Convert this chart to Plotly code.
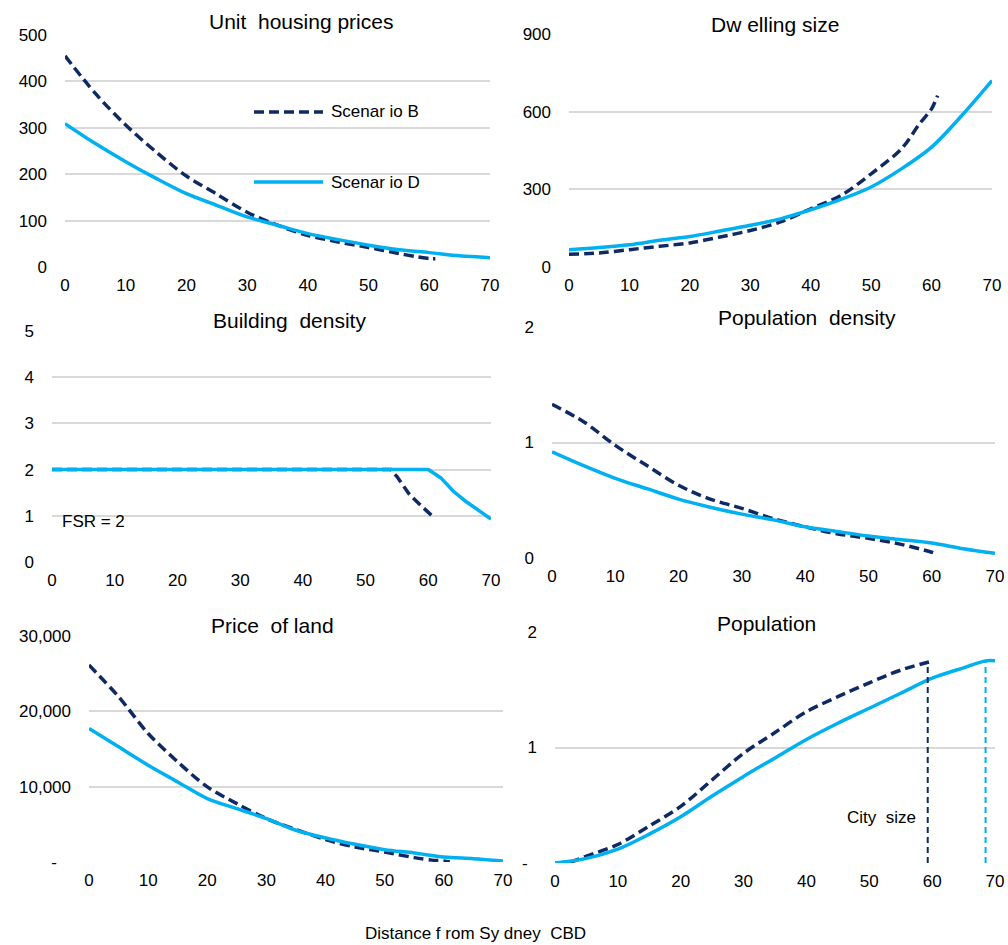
import plotly.graph_objects as go

# ---------------- data ----------------
# distance from Sydney CBD (km)
dist_B = [0, 5, 10, 15, 20, 25, 30, 35, 40, 45, 50, 55, 58, 60, 61]
dist_D = [0, 5, 10, 15, 20, 25, 30, 35, 40, 45, 50, 55, 60, 65, 70]

price_B = [455, 374, 306, 248, 196, 157, 118, 90, 68, 54, 42, 29, 22, 18, 18]
price_D = [309, 266, 227, 191, 158, 133, 108, 90, 72, 59, 47, 37, 31, 24, 20]

dwell_B = [49, 54, 67, 80, 93, 116, 141, 174, 225, 276, 360, 456, 553, 611, 662]
dwell_D = [67, 75, 86, 103, 118, 139, 161, 186, 221, 261, 309, 379, 463, 585, 720]

bd_x_B = [0, 54, 55, 57, 59, 61]
bd_B = [2, 2, 1.85, 1.46, 1.2, 0.95]
bd_x_D = [0, 60, 62, 64, 66, 68, 70]
bd_D = [2, 2, 1.82, 1.53, 1.31, 1.12, 0.93]

popd_B = [1.33, 1.18, 0.975, 0.80, 0.63, 0.51, 0.43, 0.34, 0.27, 0.21, 0.17, 0.12, 0.08, 0.05, 0.03]
popd_D = [0.92, 0.80, 0.69, 0.60, 0.51, 0.44, 0.38, 0.33, 0.27, 0.23, 0.19, 0.16, 0.13, 0.08, 0.04]

land_B = [26140, 21940, 17060, 13290, 9970, 7750, 5760, 4300, 2970, 1990, 1330, 580, 250, 130, 0]
land_D = [17720, 15290, 12850, 10630, 8420, 7090, 5760, 4210, 3190, 2350, 1640, 1200, 660, 440, 130]

pop_x_B = [0, 2.5, 5, 10, 15, 20, 25, 30, 35, 40, 45, 50, 55, 59.5]
pop_B = [0, 0.01, 0.06, 0.16, 0.32, 0.49, 0.72, 0.95, 1.13, 1.31, 1.44, 1.56, 1.67, 1.74]
pop_x_D = [0, 5, 10, 15, 20, 25, 30, 35, 40, 45, 50, 55, 60, 65, 68.5, 70]
pop_D = [0, 0.04, 0.12, 0.25, 0.40, 0.58, 0.75, 0.91, 1.07, 1.21, 1.34, 1.47, 1.60, 1.69, 1.75, 1.75]

city_size_B = 59.3
city_size_D = 68.5
city_pop_B = 1.74
city_pop_D = 1.75

titles = ["Unit  housing prices", "Dw elling size", "Building  density",
          "Population  density", "Price  of land", "Population"]
scen_names = ["Scenario B", "Scenario D"]

# ---------------- style ----------------
NAVY = "#0F2A63"
BLUE = "#00B0F0"
GRID = "#D9D9D9"
FONT = "Liberation Sans, Arial, sans-serif"
OFF = 0                      # page body margin removed via post_script
W, H = 1008, 945
NB = "\u00a0"


def px_x(p):
    return (p - OFF) / W


def px_y(p):
    return 1 - (p - OFF) / H


fig = go.Figure()


def add_pair(idx, xb, yb, xdd, ydd, shape="spline"):
    ax = "" if idx == 1 else str(idx)
    fig.add_trace(go.Scatter(x=xb, y=yb, mode="lines", name=scen_names[0], showlegend=False,
                             line=dict(color=NAVY, width=3.5, dash="10px,5px", shape=shape, smoothing=0.9),
                             xaxis="x" + ax, yaxis="y" + ax))
    fig.add_trace(go.Scatter(x=xdd, y=ydd, mode="lines", name=scen_names[1], showlegend=False,
                             line=dict(color=BLUE, width=3.5, shape=shape, smoothing=0.9),
                             xaxis="x" + ax, yaxis="y" + ax))


add_pair(1, dist_B, price_B, dist_D, price_D)
add_pair(2, dist_B, dwell_B, dist_D, dwell_D)
add_pair(3, bd_x_B, bd_B, bd_x_D, bd_D, shape="linear")
add_pair(4, dist_B, popd_B, dist_D, popd_D)
add_pair(5, dist_B, land_B, dist_D, land_D)
add_pair(6, pop_x_B, pop_B, pop_x_D, pop_D)

# city size markers
fig.add_trace(go.Scatter(x=[city_size_B, city_size_B], y=[0, city_pop_B], mode="lines", showlegend=False,
                         line=dict(color=NAVY, width=2, dash="6px,4px"), xaxis="x6", yaxis="y6"))
fig.add_trace(go.Scatter(x=[city_size_D, city_size_D], y=[0, city_pop_D], mode="lines", showlegend=False,
                         line=dict(color=BLUE, width=2, dash="6px,4px"), xaxis="x6", yaxis="y6"))

# panel geometry (screen pixels): x0, x70, ytop, ybottom
geom = [
    (65, 490, 35, 267),
    (569, 992, 34, 267),
    (52, 491, 331, 562),
    (552, 995, 327, 558),
    (89, 503, 636, 862),
    (555, 995, 632, 863),
]
yranges = [[0, 500], [0, 900], [0, 5], [0, 2], [0, 30000], [0, 2]]
yticks = [
    ([0, 100, 200, 300, 400, 500], ["0", "100", "200", "300", "400", "500"]),
    ([0, 300, 600, 900], ["0", "300", "600", "900"]),
    ([0, 1, 2, 3, 4, 5], ["0", "1", "2", "3", "4", "5"]),
    ([0, 1, 2], ["0", "1", "2"]),
    ([0, 10000, 20000, 30000], ["-" + NB * 3, "10,000", "20,000", "30,000"]),
    ([0, 1, 2], ["-" + NB * 2, "1", "2"]),
]
xt = [0, 10, 20, 30, 40, 50, 60, 70]

layout = dict(
    width=W, height=H, paper_bgcolor="white", plot_bgcolor="white",
    margin=dict(l=0, r=0, t=0, b=0, autoexpand=False), showlegend=False,
    font=dict(family=FONT, size=17, color="#000000"),
)
for i, (x0, x1, yt, yb) in enumerate(geom, start=1):
    s = "" if i == 1 else str(i)
    layout["xaxis" + s] = dict(domain=[px_x(x0), px_x(x1)], anchor="y" + s, range=[0, 70],
                               tickvals=xt, ticktext=[str(v) for v in xt], automargin=False,
                               showgrid=False, zeroline=False, showline=False, ticks="",
                               ticklabelstandoff=6, tickfont=dict(size=17, family=FONT, color="#000000"))
    tv, tt = yticks[i - 1]
    layout["yaxis" + s] = dict(domain=[px_y(yb), px_y(yt)], anchor="x" + s, range=yranges[i - 1],
                               tickvals=tv, ticktext=tt, showgrid=True, gridcolor=GRID, gridwidth=1.5,
                               zeroline=False, showline=False, ticks="", ticklabelstandoff=17,
                               automargin=False,
                               tickfont=dict(size=17, family=FONT, color="#000000"))
fig.update_layout(**layout)

# titles
title_pos = [(301, 22), (775, 24), (289, 320), (807, 317), (272, 625), (766, 623)]
for t, (px, py) in zip(titles, title_pos):
    fig.add_annotation(text=t, x=px_x(px), y=px_y(py), xref="paper", yref="paper",
                       showarrow=False, xanchor="center", yanchor="middle",
                       font=dict(size=21, family=FONT, color="#000000"))

# legend (drawn inside the first panel)
leg = [(112, NAVY, "dash", "Scenar io B"), (182, BLUE, "solid", "Scenar io D")]
for py, col, dsh, name in leg:
    fig.add_shape(type="line", xref="paper", yref="paper", x0=px_x(254), x1=px_x(323),
                  y0=px_y(py), y1=px_y(py),
                  line=dict(color=col, width=3.5, dash="10px,5px" if dsh == "dash" else "solid"))
    fig.add_annotation(text=name, x=px_x(329), y=px_y(py), xref="paper", yref="paper",
                       showarrow=False, xanchor="left", yanchor="middle",
                       font=dict(size=17, family=FONT, color="#000000"))

fig.add_annotation(text="FSR = 2", x=px_x(60), y=px_y(521), xref="paper", yref="paper",
                   showarrow=False, xanchor="left", yanchor="middle",
                   font=dict(size=17, family=FONT, color="#000000"))
fig.add_annotation(text="City  size", x=px_x(918), y=px_y(817), xref="paper", yref="paper",
                   showarrow=False, xanchor="right", yanchor="middle",
                   font=dict(size=17, family=FONT, color="#000000"))
fig.add_annotation(text="Distance f rom Sy dney  CBD", x=px_x(475), y=px_y(933), xref="paper", yref="paper",
                   showarrow=False, xanchor="center", yanchor="middle",
                   font=dict(size=17, family=FONT, color="#000000"))

fig.write_html("out.html", config={"displayModeBar": False},
               post_script="document.body.style.margin='0';document.body.style.overflow='hidden';")
